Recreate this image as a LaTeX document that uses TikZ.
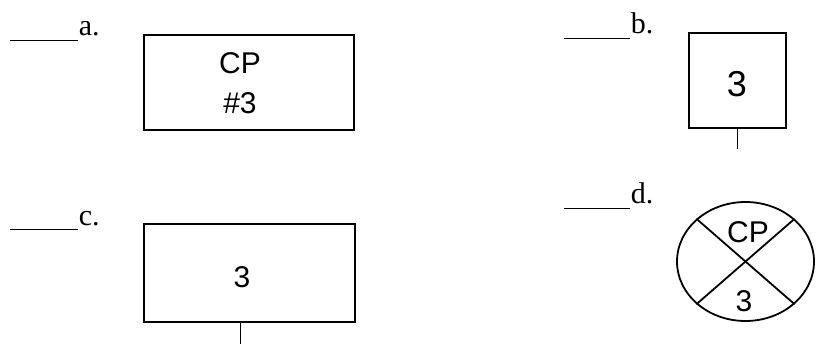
\documentclass[tikz,border=0pt]{standalone}
\usepackage{fontspec}
\setmainfont{Liberation Serif}
\newfontfamily\boxfont{Liberation Sans}
\usetikzlibrary{shapes.geometric}
\begin{document}
\begin{tikzpicture}[x=1pt,y=-1pt,line width=1.8pt,
        sym/.style={draw, inner sep=0pt},
        txt/.style={inner sep=0pt, font=\boxfont\fontsize{30}{40}\selectfont, align=center},
        tag/.style={anchor=base west, inner sep=0pt, font=\fontsize{30}{36}\selectfont}]
        \useasboundingbox (0,0) rectangle (817,349);

        % answer blanks
        \coordinate (la) at (10,40);
        \coordinate (lb) at (564,38);
        \coordinate (lc) at (10,229);
        \coordinate (ld) at (564,208);
        \node[tag] (a) at (78,35) {a.};
        \node[tag] (b) at (630,33) {b.};
        \node[tag] (c) at (78,225) {c.};
        \node[tag] (d) at (630,203) {d.};
        \path[draw,line width=1pt] (la) -- (la -| a.west);
        \path[draw,line width=1pt] (lb) -- (lb -| b.west);
        \path[draw,line width=1pt] (lc) -- (lc -| c.west);
        \path[draw,line width=1pt] (ld) -- (ld -| d.west);

        % symbols
        \node[sym, minimum width=210pt, minimum height=95pt] (sa) at (249,82.5) {};
        \node[sym, minimum width=97pt, minimum height=95pt] (sb) at (737.5,80.5) {};
        \node[sym, minimum width=211pt, minimum height=98pt] (sc) at (249.5,273) {};
        \node[sym, ellipse, minimum width=137pt, minimum height=119pt] (sd) at (745.5,261.5) {};

        \node[txt] (acp) at (240,83) {CP\\\#3};
        \node[txt, font=\boxfont\fontsize{36}{40}\selectfont] (bnum) at (737,84) {3};
        \node[txt] (cnum) at (242,277) {3};
        \node[txt] (dcp) at (748,232) {CP};
        \node[txt] (dnum) at (744,301) {3};

        \coordinate (tb) at ([yshift=-20pt]sb.south);
        \coordinate (cs) at ([xshift=-9pt]sc.south);
        \coordinate (tc) at ([xshift=-9pt,yshift=-21pt]sc.south);
        \path[draw] (sb.south) -- (tb);
        \path[draw] (cs) -- (tc);
        \path[draw] (sd.north west) -- (sd.south east);
        \path[draw] (sd.north east) -- (sd.south west);
    \end{tikzpicture}
\end{document}
